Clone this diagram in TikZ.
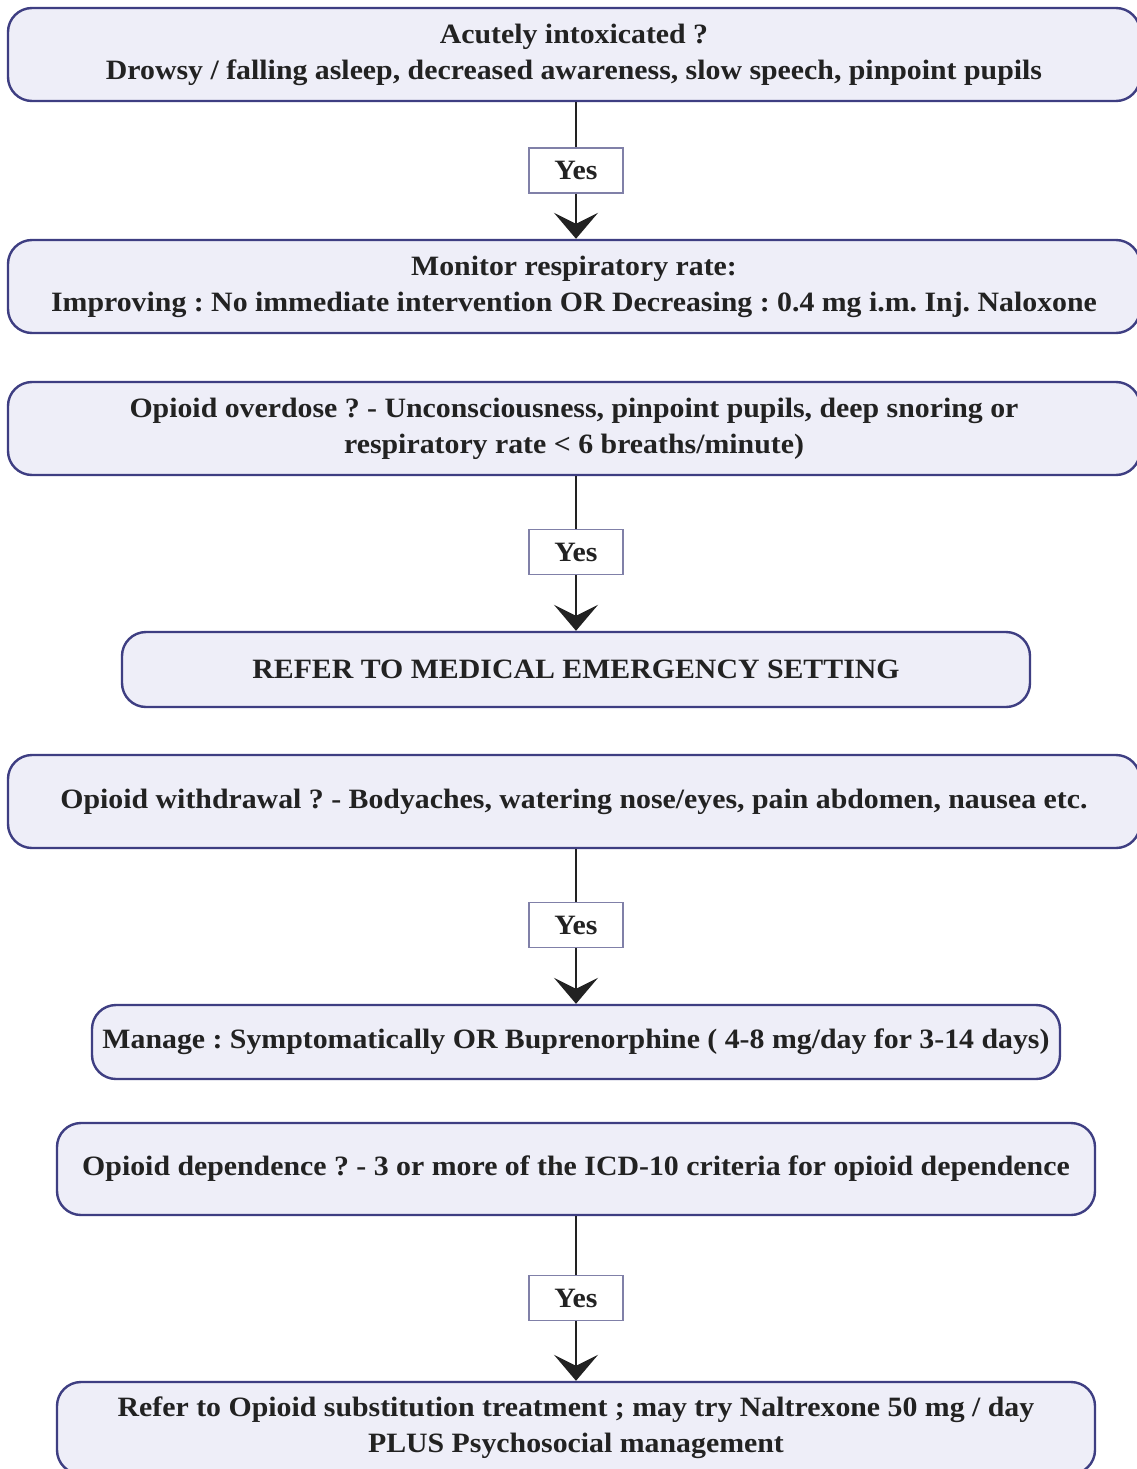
\documentclass[tikz,border=0pt]{standalone}
\usepackage{fontspec}
\setmainfont{Liberation Serif}[FakeStretch=1.065]
\usetikzlibrary{arrows.meta}
\definecolor{boxfill}{HTML}{EEEEF8}
\definecolor{boxline}{HTML}{3E3E82}
\definecolor{yesline}{HTML}{8080A8}
\definecolor{ink}{HTML}{222222}
\frenchspacing
\begin{document}
\begin{tikzpicture}[x=1pt,y=-1pt,
  stepbox/.style={draw=boxline, line width=2.4pt, fill=boxfill, rounded corners=24pt,
    inner sep=0pt, align=center, text=ink,
    font=\fontsize{28}{36}\selectfont\bfseries},
  yesbox/.style={draw=yesline, line width=1.3pt, fill=white, minimum width=94pt,
    minimum height=45pt, inner sep=0pt, text=ink,
    font=\fontsize{28}{30}\selectfont\bfseries},
  link/.style={draw=ink, line width=2pt},
  tiplink/.style={link, -{Stealth[length=26pt, width=44pt, inset=11pt]}}]
\clip (0,0) rectangle (1137,1469);
\fill[white] (0,0) rectangle (1137,1469);

% decision and action boxes
\node[stepbox, minimum width=1132pt, minimum height=93pt] (b1) at (574,54.5)
  {Acutely intoxicated ?\\Drowsy / falling asleep, decreased awareness, slow speech, pinpoint pupils};
\node[stepbox, minimum width=1132pt, minimum height=93pt] (b2) at (574,286.5)
  {Monitor respiratory rate:\\Improving : No immediate intervention OR Decreasing : 0.4 mg i.m. Inj. Naloxone};
\node[stepbox, minimum width=1132pt, minimum height=93pt] (b3) at (574,428.5)
  {Opioid overdose ? - Unconsciousness, pinpoint pupils, deep snoring or\\respiratory rate < 6 breaths/minute)};
\node[stepbox, minimum width=908pt, minimum height=75pt] (b4) at (576,669.5)
  {REFER TO MEDICAL EMERGENCY SETTING};
\node[stepbox, minimum width=1132pt, minimum height=93pt] (b5) at (574,801.5)
  {Opioid withdrawal ? - Bodyaches, watering nose/eyes, pain abdomen, nausea etc.};
\node[stepbox, minimum width=968pt, minimum height=74pt] (b6) at (576,1042)
  {Manage : Symptomatically OR Buprenorphine ( 4-8 mg/day for 3-14 days)};
\node[stepbox, minimum width=1038pt, minimum height=92pt] (b7) at (576,1169)
  {Opioid dependence ? - 3 or more of the ICD-10 criteria for opioid dependence};
\node[stepbox, minimum width=1038pt, minimum height=92pt] (b8) at (576,1428)
  {Refer to Opioid substitution treatment ; may try Naltrexone 50 mg / day\\PLUS Psychosocial management};

% "Yes" labels on the links
\node[yesbox] (y1) at (576,170.5) {Yes};
\node[yesbox] (y2) at (576,552) {Yes};
\node[yesbox] (y3) at (576,925) {Yes};
\node[yesbox] (y4) at (576,1298) {Yes};

% links
\draw[link] (b1.south -| y1) -- (y1.north);
\draw[tiplink] (y1.south) -- (y1.south |- b2.north);
\draw[link] (b3.south -| y2) -- (y2.north);
\draw[tiplink] (y2.south) -- (y2.south |- b4.north);
\draw[link] (b5.south -| y3) -- (y3.north);
\draw[tiplink] (y3.south) -- (y3.south |- b6.north);
\draw[link] (b7.south -| y4) -- (y4.north);
\draw[tiplink] (y4.south) -- (y4.south |- b8.north);
\end{tikzpicture}
\end{document}
